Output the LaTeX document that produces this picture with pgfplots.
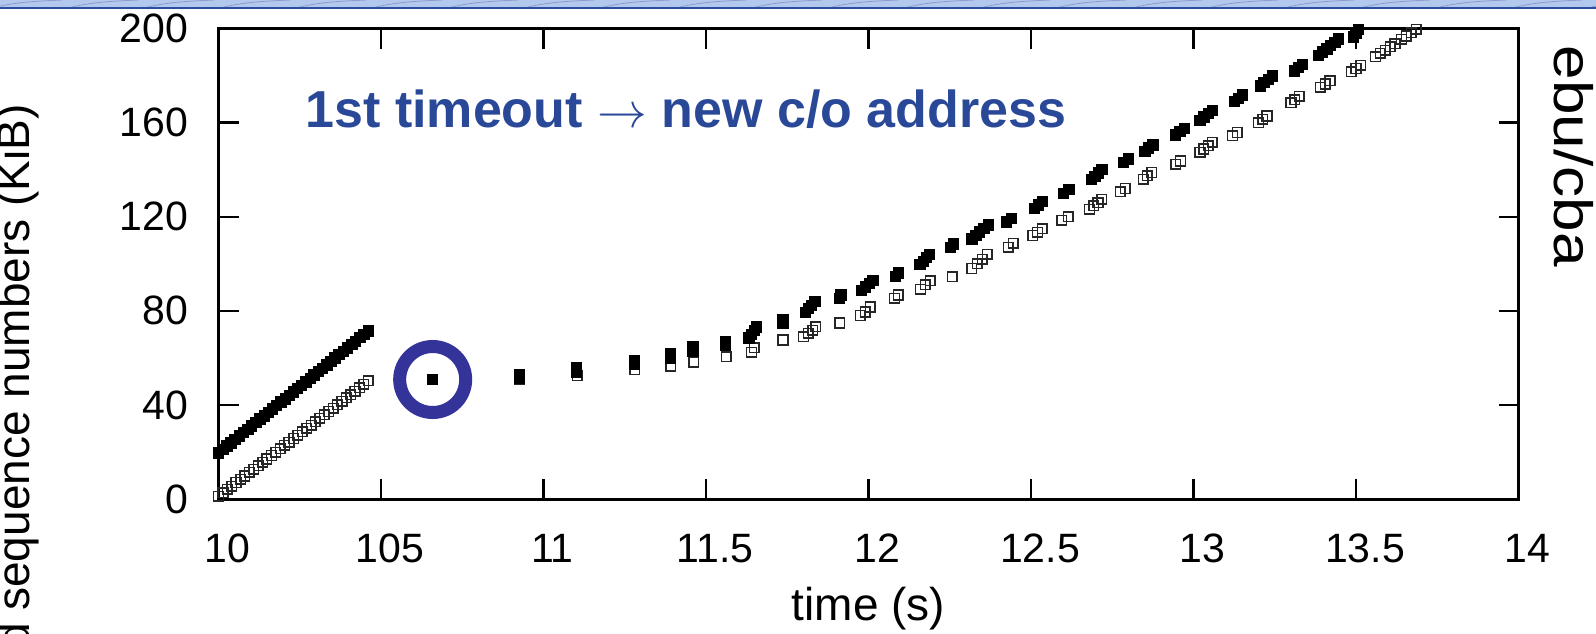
\documentclass[border=0pt]{standalone}
\usepackage{fontspec}
\setmainfont{Liberation Sans}
\usepackage{pgfplots}
\pgfplotsset{compat=1.18}

\definecolor{annblue}{RGB}{42,72,152}
\definecolor{ringblue}{RGB}{51,51,153}
\definecolor{bandlight}{RGB}{178,200,236}
\definecolor{banddark}{RGB}{44,78,160}

\begin{document}
\begin{tikzpicture}
\useasboundingbox (-109.25pt,-67pt) rectangle (688.75pt,249.5pt);
\clip (-109.25pt,-67pt) rectangle (688.75pt,249.5pt);
% slide header band
\fill[bandlight] (-109.25pt,245.5pt) rectangle (688.75pt,249.5pt);
\foreach \i in {0,...,21} {
  \draw[banddark!55, line width=0.4pt] ({(-112+38*\i)*1pt},245.8pt) .. controls +(12pt,3pt) and +(-10pt,-0.5pt) .. +(34pt,3.7pt);
}
\draw[banddark, line width=1pt] (-109.25pt,245.5pt) -- (688.75pt,245.5pt);

\begin{axis}[
  at={(0,0)}, anchor=south west,
  scale only axis, width=650pt, height=235.25pt,
  xmin=10, xmax=14, ymin=0, ymax=200,
  xtick={10,10.5,11,11.5,12,12.5,13,13.5,14},
  xticklabels={10,105,11,11.5,12,12.5,13,13.5,14},
  ytick={0,40,80,120,160,200},
  yticklabels={0,40,80,120,160,200},
  tick align=inside, major tick length=10pt,
  every tick/.style={black, line width=1.2pt},
  axis line style={line width=1.5pt},
  ticklabel style={font=\fontsize{20.5}{24}\selectfont, inner sep=0pt},
  xticklabel style={anchor=base, xshift=4.5pt, yshift=-31.5pt},
  yticklabel style={anchor=east, xshift=-15pt},
  xlabel={time (s)},
  every axis x label/.style={at={(axis description cs:0.5,0)}, yshift=-55pt, anchor=center, font=\fontsize{23}{27}\selectfont},
  ylabel={received sequence numbers (KiB)},
  every axis y label/.style={at={(axis description cs:-0.1542,0.854)}, anchor=east, rotate=90, font=\fontsize{23}{27}\selectfont},
  clip=false,
]
% acknowledged data (open squares)
\addplot[only marks, mark=square, mark size=2.4pt, mark options={draw=black!85, line width=0.75pt}] coordinates {
(10.000,1.2) (10.014,2.6) (10.027,4.1) (10.041,5.5) (10.054,7.0) (10.068,8.4) (10.081,9.8)
(10.095,11.3) (10.108,12.7) (10.122,14.2) (10.136,15.6) (10.149,17.0) (10.163,18.5) (10.176,19.9)
(10.190,21.4) (10.203,22.8) (10.217,24.2) (10.231,25.7) (10.244,27.1) (10.258,28.6) (10.271,30.0)
(10.285,31.4) (10.298,32.9) (10.312,34.3) (10.325,35.8) (10.339,37.2) (10.353,38.6) (10.366,40.1)
(10.380,41.5) (10.393,43.0) (10.407,44.4) (10.420,45.8) (10.434,47.3) (10.447,48.7) (10.461,50.2)
(10.927,50.8) (11.104,52.5) (11.281,55.0) (11.392,56.5) (11.462,58.2) (11.562,60.4)
(11.640,62.3) (11.648,64.3)
(11.737,67.6) (11.800,68.9) (11.815,70.4) (11.828,71.8) (11.838,73.2) (11.912,74.8)
(11.975,78.0) (11.990,79.5) (12.005,81.6) (12.080,85.3) (12.092,86.7)
(12.160,89.2) (12.175,91.0) (12.190,92.8) (12.258,94.4)
(12.318,98.0) (12.335,100.0) (12.350,102.0) (12.365,104.0)
(12.430,107.0) (12.445,108.8)
(12.505,112.0) (12.520,113.4) (12.535,114.8)
(12.595,118.5) (12.614,119.9)
(12.680,123.2) (12.693,124.6) (12.706,126.0) (12.718,127.4)
(12.775,130.6) (12.790,132.0)
(12.845,136.0) (12.858,137.4) (12.872,138.8)
(12.945,142.3) (12.960,143.7)
(13.020,147.4) (13.032,148.8) (13.045,150.2) (13.058,151.6)
(13.120,154.4) (13.135,155.8)
(13.200,160.0) (13.213,161.4) (13.226,162.8)
(13.300,168.4) (13.312,169.8) (13.325,171.2)
(13.390,175.0) (13.405,176.4) (13.420,177.8)
(13.485,181.6) (13.500,183.0) (13.515,184.4)
(13.560,188.0) (13.575,189.4) (13.590,190.8) (13.605,192.2) (13.620,193.6)
(13.640,195.4) (13.655,196.8) (13.670,198.2) (13.685,199.6)
};
% sent data (filled squares)
\addplot[only marks, mark=square*, mark size=2.6pt, mark options={fill=black, draw=black}] coordinates {
(10.000,19.6) (10.013,21.0) (10.026,22.5) (10.038,23.9) (10.051,25.4) (10.064,26.8) (10.077,28.2)
(10.090,29.7) (10.102,31.1) (10.115,32.6) (10.128,34.0) (10.141,35.4) (10.154,36.9) (10.166,38.3)
(10.179,39.8) (10.192,41.2) (10.205,42.6) (10.218,44.1) (10.230,45.5) (10.243,47.0) (10.256,48.4)
(10.269,49.8) (10.282,51.3) (10.294,52.7) (10.307,54.2) (10.320,55.6) (10.333,57.0) (10.346,58.5)
(10.358,59.9) (10.371,61.4) (10.384,62.8) (10.397,64.2) (10.410,65.7) (10.422,67.1) (10.435,68.6)
(10.448,70.0) (10.461,71.4)
(10.659,50.8)
(10.925,51.4) (10.925,53.0)
(11.102,53.8) (11.102,55.8)
(11.279,57.4) (11.279,59.0)
(11.390,60.0) (11.390,61.6)
(11.460,63.0) (11.460,64.8)
(11.560,65.5) (11.560,67.1)
(11.632,68.4) (11.640,70.0) (11.648,71.6) (11.655,73.2)
(11.737,74.6) (11.737,76.2)
(11.805,79.4) (11.815,80.9) (11.825,82.4) (11.835,83.9)
(11.910,85.3) (11.915,86.8)
(11.978,88.6) (11.990,90.1) (12.003,91.6) (12.014,93.0)
(12.083,94.6) (12.092,96.1)
(12.158,99.6) (12.168,101.1) (12.178,102.6) (12.188,104.1)
(12.252,107.0) (12.262,108.5)
(12.318,110.6) (12.330,112.1) (12.342,113.6) (12.355,115.1) (12.368,116.6)
(12.425,117.8) (12.440,119.3)
(12.510,123.6) (12.522,125.0) (12.535,126.4)
(12.600,130.0) (12.616,131.5)
(12.685,135.8) (12.696,137.2) (12.707,138.6) (12.718,140.0)
(12.785,143.0) (12.800,144.5)
(12.850,147.8) (12.862,149.2) (12.875,150.6)
(12.945,154.8) (12.958,156.2) (12.972,157.6)
(13.020,161.0) (13.032,162.4) (13.045,163.8) (13.058,165.2)
(13.125,169.0) (13.138,170.4) (13.150,171.8)
(13.205,175.6) (13.217,177.0) (13.230,178.4) (13.242,179.8)
(13.310,182.0) (13.322,183.4) (13.335,184.8)
(13.385,188.6) (13.397,190.0) (13.410,191.4) (13.422,192.8) (13.435,194.2) (13.445,195.6)
(13.492,196.4) (13.500,198.0) (13.508,199.6)
};
% highlight of the first packet after the timeout
\draw[ringblue, line width=6.5pt] (axis cs:10.659,50.8) circle[radius=16.5pt];
\node[annblue, anchor=base, font=\fontsize{26}{31}\selectfont\bfseries] at (axis cs:11.438,158.1) {1st timeout $\rightarrow$ new c/o address};
\node[anchor=west, rotate=-90, font=\fontsize{27}{32}\selectfont] at (axis description cs:1.0425,0.978) {\scalebox{1.15}[1]{ebu/cba}};
\end{axis}
\end{tikzpicture}
\end{document}
